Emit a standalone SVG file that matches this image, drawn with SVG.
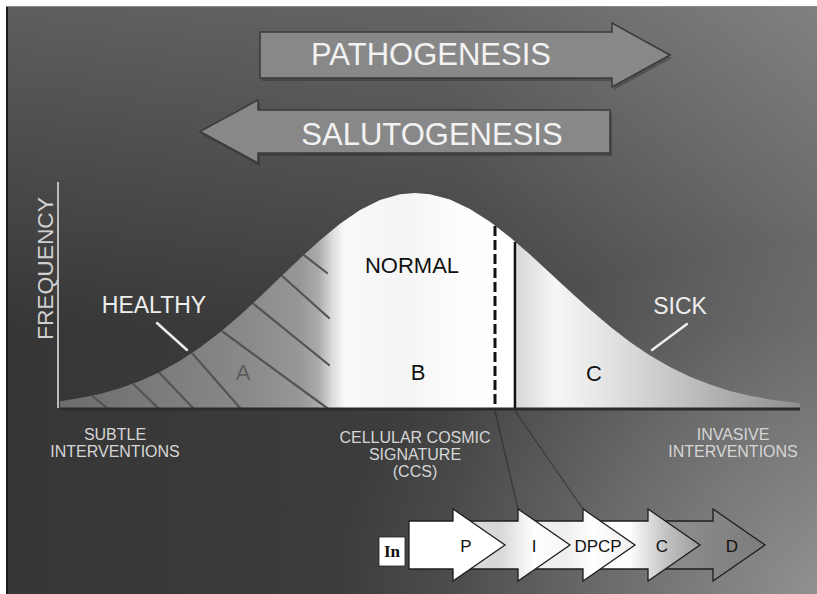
<svg xmlns="http://www.w3.org/2000/svg" width="817" height="594" viewBox="0 0 817 594">
<defs>
  <style>
    .sans { font-family: "Liberation Sans", Arial, Helvetica, sans-serif; }
    .big { font-size: 31px; fill: #f2f2f2; text-anchor: middle; }
    .wl { font-size: 23px; fill: #eeeeee; text-anchor: middle; }
    .bl { font-size: 22px; fill: #111111; text-anchor: middle; }
    .ax { font-size: 16px; fill: #d6d6d6; text-anchor: middle; }
    .cl { font-size: 17px; fill: #111111; text-anchor: middle; }
    .ptr { stroke: #eeeeee; stroke-width: 2.5; stroke-linecap: round; }
    .hatch { stroke: #545454; stroke-width: 2.2; stroke-linecap: round; }
    .bigarrow { fill: #888888; stroke: #3a3a3a; stroke-width: 1.5; }
    .shadow { fill: #222222; opacity: 0.35; }
    .chain { stroke: #1e1e1e; stroke-width: 1.3; stroke-linejoin: miter; }
    .conn { stroke: #262626; stroke-width: 1.3; fill: none; opacity: 0.6; }
  </style>
  <linearGradient id="bgX" x1="0" y1="0" x2="1" y2="0">
    <stop offset="0" stop-color="#363636"/>
    <stop offset="0.55" stop-color="#3e3e3e"/>
    <stop offset="1" stop-color="#616161"/>
  </linearGradient>
  <linearGradient id="bgY" x1="0" y1="0" x2="0" y2="1">
    <stop offset="0" stop-color="#ffffff" stop-opacity="0.2"/>
    <stop offset="0.55" stop-color="#ffffff" stop-opacity="0"/>
    <stop offset="1" stop-color="#ffffff" stop-opacity="0"/>
  </linearGradient>
  <radialGradient id="bgBR" cx="1" cy="1" r="0.6">
    <stop offset="0" stop-color="#ffffff" stop-opacity="0.3"/>
    <stop offset="1" stop-color="#ffffff" stop-opacity="0"/>
  </radialGradient>
  <linearGradient id="curveFill" gradientUnits="userSpaceOnUse" x1="60" y1="0" x2="800" y2="0">
    <stop offset="0" stop-color="#6c6c6c"/>
    <stop offset="0.122" stop-color="#7a7a7a"/>
    <stop offset="0.257" stop-color="#8a8a8a"/>
    <stop offset="0.324" stop-color="#979797"/>
    <stop offset="0.349" stop-color="#aaaaaa"/>
    <stop offset="0.368" stop-color="#dcdcdc"/>
    <stop offset="0.385" stop-color="#fafafa"/>
    <stop offset="0.459" stop-color="#f4f4f4"/>
    <stop offset="0.541" stop-color="#fdfdfd"/>
    <stop offset="0.611" stop-color="#ffffff"/>
    <stop offset="0.619" stop-color="#d8d8d8"/>
    <stop offset="0.642" stop-color="#e6e6e6"/>
    <stop offset="0.669" stop-color="#f6f6f6"/>
    <stop offset="0.730" stop-color="#e6e6e6"/>
    <stop offset="0.811" stop-color="#cccccc"/>
    <stop offset="0.892" stop-color="#b0b0b0"/>
    <stop offset="1" stop-color="#8e8e8e"/>
  </linearGradient>
  <path id="bell" d="M60,408 L60,401.2 L80,398.1 L100,393.9 L120,388.3 L140,381 L160,371.9 L180,360.7 L200,347.5 L220,332.3 L240,315.2 L260,296.8 L280,277.6 L300,258.4 L320,240.2 L340,223.7 L360,210.1 L380,200.1 L400,194.3 L415,193 L430,194.2 L450,199.6 L470,209 L490,221.7 L510,237.2 L530,254.6 L550,272.9 L570,291.5 L590,309.6 L610,326.5 L630,341.9 L650,355.5 L670,367.1 L690,376.8 L710,384.6 L730,390.9 L750,395.7 L770,399.4 L790,402 L800,403.5 L800,408 Z"/>
  <clipPath id="bellClip"><use href="#bell"/></clipPath>
  <linearGradient id="gI" gradientUnits="userSpaceOnUse" x1="500" y1="0" x2="570" y2="0">
    <stop offset="0" stop-color="#d8d8d8"/>
    <stop offset="0.5" stop-color="#ffffff"/>
    <stop offset="1" stop-color="#f6f6f6"/>
  </linearGradient>
  <linearGradient id="gDPCP" gradientUnits="userSpaceOnUse" x1="565" y1="0" x2="635" y2="0">
    <stop offset="0" stop-color="#eeeeee"/>
    <stop offset="0.4" stop-color="#ffffff"/>
    <stop offset="1" stop-color="#efefef"/>
  </linearGradient>
  <linearGradient id="gC" gradientUnits="userSpaceOnUse" x1="630" y1="0" x2="700" y2="0">
    <stop offset="0" stop-color="#fdfdfd"/>
    <stop offset="0.5" stop-color="#c4c4c4"/>
    <stop offset="1" stop-color="#9c9c9c"/>
  </linearGradient>
  <linearGradient id="gD" gradientUnits="userSpaceOnUse" x1="690" y1="0" x2="765" y2="0">
    <stop offset="0" stop-color="#8a8a8a"/>
    <stop offset="1" stop-color="#7c7c7c"/>
  </linearGradient>
</defs>

<!-- page and panel background -->
<rect x="0" y="0" width="817" height="594" fill="#ffffff"/>
<rect x="6" y="6" width="811" height="588" fill="url(#bgX)"/>
<rect x="6" y="6" width="811" height="588" fill="url(#bgY)"/>
<rect x="6" y="6" width="811" height="588" fill="url(#bgBR)"/>
<line x1="7" y1="6" x2="7" y2="594" stroke="#1a1a1a" stroke-width="2"/>
<line x1="6" y1="6.5" x2="817" y2="6.5" stroke="#8a8a8a" stroke-width="1"/>

<!-- top arrows -->
<g id="pathogenesis">
  <polygon class="shadow" points="262,35 614,35 614,26 672,58 614,90 614,81 262,81"/>
  <polygon class="bigarrow" points="260,32 612,32 612,23 670,55 612,87 612,78 260,78"/>
  <text class="sans big" x="431" y="65">PATHOGENESIS</text>
</g>
<g id="salutogenesis">
  <polygon class="shadow" points="612,113 260,113 260,103 202,134.5 260,166 260,156 612,156"/>
  <polygon class="bigarrow" points="610,110 258,110 258,100 200,131.5 258,163 258,153 610,153"/>
  <text class="sans big" x="432" y="145">SALUTOGENESIS</text>
</g>

<!-- distribution curve -->
<g id="curve">
  <use href="#bell" fill="url(#curveFill)"/>
  <g clip-path="url(#bellClip)">
    <line class="hatch" x1="300" y1="252" x2="327" y2="273"/>
    <line class="hatch" x1="280" y1="274" x2="329" y2="318"/>
    <line class="hatch" x1="250" y1="301" x2="329" y2="365"/>
    <line class="hatch" x1="215" y1="326" x2="327" y2="408"/>
    <line class="hatch" x1="185" y1="345" x2="240" y2="408"/>
    <line class="hatch" x1="150" y1="363" x2="193" y2="408"/>
    <line class="hatch" x1="122" y1="373" x2="158" y2="408"/>
    <line class="hatch" x1="85" y1="390" x2="107" y2="408"/>
  </g>
  <line x1="495" y1="226" x2="495" y2="408" stroke="#111111" stroke-width="3" stroke-dasharray="10 4"/>
  <line x1="515" y1="242" x2="515" y2="408" stroke="#111111" stroke-width="2.5"/>
  <line x1="60" y1="409" x2="800" y2="409" stroke="#2b2b2b" stroke-width="3"/>
  <line x1="58" y1="182" x2="58" y2="408" stroke="#bbbbbb" stroke-width="2"/>
</g>

<g id="axis-labels">
  <text class="sans" x="0" y="0" font-size="22" fill="#d0d0d0" text-anchor="middle" textLength="143" lengthAdjust="spacingAndGlyphs" transform="translate(53,268.5) rotate(-90)">FREQUENCY</text>
  <text class="sans ax" x="115" y="440">SUBTLE</text>
  <text class="sans ax" x="115" y="457">INTERVENTIONS</text>
  <text class="sans ax" x="415" y="443">CELLULAR COSMIC</text>
  <text class="sans ax" x="415" y="460">SIGNATURE</text>
  <text class="sans ax" x="415" y="477">(CCS)</text>
  <text class="sans ax" x="733" y="440">INVASIVE</text>
  <text class="sans ax" x="733" y="457">INTERVENTIONS</text>
</g>

<g id="healthy">
  <text class="sans wl" x="154" y="313">HEALTHY</text>
  <line class="ptr" x1="157" y1="323" x2="187" y2="350"/>
</g>
<g id="sick">
  <text class="sans wl" x="680" y="314">SICK</text>
  <line class="ptr" x1="652" y1="350" x2="687" y2="324"/>
</g>
<g id="region-labels">
  <text class="sans" x="243" y="380" font-size="22" fill="#5c5c5c" text-anchor="middle">A</text>
  <text class="sans bl" x="412" y="273" font-size="23">NORMAL</text>
  <text class="sans bl" x="418" y="380">B</text>
  <text class="sans bl" x="594" y="381">C</text>
</g>

<!-- connectors -->
<g id="connectors">
  <line class="conn" x1="495" y1="411" x2="518" y2="509"/>
  <line class="conn" x1="515" y1="411" x2="583" y2="509"/>
</g>

<!-- bottom chain of arrows (drawn back to front) -->
<g id="arrow-D">
  <path class="chain" stroke="#444444" fill="url(#gD)" d="M648,521 L713,521 L713,509 L765,545 L713,581 L713,569 L648,569 Z"/>
  <text class="sans cl" x="732" y="552" fill="#6c6c6c">D</text>
</g>
<g id="arrow-C">
  <path class="chain" stroke="#333333" fill="url(#gC)" d="M583,521 L648,521 L648,509 L700,545 L648,581 L648,569 L583,569 Z"/>
  <text class="sans cl" x="662" y="552" fill="#8a8a8a">C</text>
</g>
<g id="arrow-DPCP">
  <path class="chain" fill="url(#gDPCP)" d="M518,521 L583,521 L583,509 L635,545 L583,581 L583,569 L518,569 Z"/>
  <text class="sans cl" x="598" y="552" font-size="18">DPCP</text>
</g>
<g id="arrow-I">
  <path class="chain" fill="url(#gI)" d="M453,521 L518,521 L518,509 L570,545 L518,581 L518,569 L453,569 Z"/>
  <text class="sans cl" x="534" y="552">I</text>
</g>
<g id="arrow-P">
  <path class="chain" fill="#ffffff" d="M409,521 L453,521 L453,509 L505,545 L453,581 L453,569 L409,569 Z"/>
  <text class="sans cl" x="466" y="552">P</text>
</g>
<g id="box-In">
  <rect x="379" y="537" width="26" height="29" fill="#ffffff" stroke="#222222" stroke-width="0.8"/>
  <text x="392" y="557" font-family="'Liberation Serif', 'Times New Roman', serif" font-weight="bold" font-size="17" fill="#111111" text-anchor="middle">In</text>
</g>
</svg>
